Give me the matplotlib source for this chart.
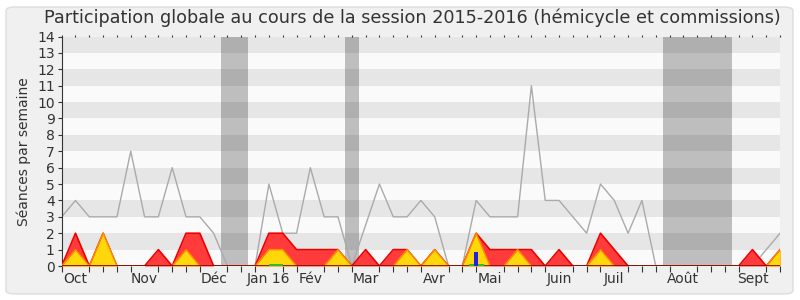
import numpy as np
import matplotlib
matplotlib.use("Agg")
import matplotlib.pyplot as plt
from matplotlib.patches import FancyBboxPatch

# weekly values, session 2015-2016 (53 weeks)
median_all = [3, 4, 3, 3, 3, 7, 3, 3, 6, 3, 3, 2, 0, 0, 0, 5, 2, 2, 6, 3,
              3, 0, 2.5, 5, 3, 3, 4, 3, 0, 0, 4, 3, 3, 3, 11, 4, 4, 3, 2, 5,
              4, 2, 4, 0, 0, 0, 0, 0, 0, 0, 0, 1, 2]
presence_total = [0, 2, 0, 2, 0, 0, 0, 1, 0, 2, 2, 0, 0, 0, 0, 2, 2, 1, 1, 1,
                  1, 0, 1, 0, 1, 1, 0, 1, 0, 0, 2, 1, 1, 1, 1, 0, 1, 0, 0, 2,
                  1, 0, 0, 0, 0, 0, 0, 0, 0, 0, 1, 0, 1]
presence_hemi = [0, 1, 0, 2, 0, 0, 0, 0, 0, 1, 0, 0, 0, 0, 0, 1, 1, 0, 0, 0,
                 1, 0, 0, 0, 0, 1, 0, 1, 0, 0, 2, 0, 0, 1, 0, 0, 0, 0, 0, 1,
                 0, 0, 0, 0, 0, 0, 0, 0, 0, 0, 0, 0, 1]
questions_weeks = [30]
questions_vals = [0.85]
interv_weeks = [15.5, 30.05]
interv_widths = [1.0, 1.1]

recess = [(11.5, 13.5), (20.5, 21.5), (43.5, 48.5)]

month_pos = [1, 6, 11, 15, 18, 22, 27, 31, 36, 40, 45, 50]
month_lbl = ["Oct", "Nov", "Déc", "Jan 16", "Fév", "Mar", "Avr", "Mai",
             "Juin", "Juil", "Août", "Sept"]

TXT = "#333333"
weeks = np.arange(len(median_all))

fig = plt.figure(figsize=(8, 3), dpi=100)
fig.patch.set_facecolor("white")
fig.patches.append(FancyBboxPatch((6 / 800, 6 / 300), 787 / 800, 287 / 300,
                                  boxstyle="round,pad=0,rounding_size=0.012",
                                  transform=fig.transFigure, facecolor="#F0F0F0",
                                  edgecolor="#DDDDDD", lw=1, zorder=-10))

ax = fig.add_axes([0.0771, 0.1133, 0.898, 0.765])
ax.set_facecolor("#FAFAFA")

# alternating stripes
for k in range(0, 14, 2):
    ax.axhspan(k + 1, k + 2, color="#E6E6E6", lw=0, zorder=0)

for a, b in recess:
    ax.axvspan(a, b, color="black", alpha=0.24, lw=0, zorder=1)

ax.plot(weeks, median_all, color="#AAAAAA", lw=1, zorder=2)

ax.fill_between(weeks, 0, presence_total, color="#FF3B3B", lw=0, zorder=3)
ax.plot(weeks, presence_total, color="#EE0000", lw=1.2, zorder=3)
ax.fill_between(weeks, 0, presence_hemi, color="#FFD70A", lw=0, zorder=4)
ax.plot(weeks, presence_hemi, color="#FF8C00", lw=1.0, zorder=4)
ax.axhline(0, color="#7A0000", lw=1.2, zorder=5)

ax.bar(interv_weeks, 0.12, width=interv_widths, color="#33BB33", lw=0, zorder=6)
ax.bar(questions_weeks, questions_vals, width=0.3, color="#2222DD", lw=0, zorder=6)

ax.set_xlim(0, 52)
ax.set_ylim(0, 14)
ax.set_yticks(range(15))
ax.set_xticks(month_pos)
ax.set_xticklabels(month_lbl)
ax.set_xticks(weeks, minor=True)
ax.tick_params(axis="x", which="major", length=0, pad=4, labelsize=10, colors=TXT)
ax.tick_params(axis="x", which="minor", length=4, width=0.8, color="#333333",
               direction="out")
ax.tick_params(axis="y", length=3, width=0.8, labelsize=10, colors=TXT, pad=2)

# small dotted ticks along the top edge
top = ax.secondary_xaxis("top")
top.set_xticks(weeks)
top.tick_params(length=1.5, width=0.8, color="#333333", labeltop=False)
top.spines["top"].set_visible(False)

for s in ["top", "right"]:
    ax.spines[s].set_visible(False)
ax.spines["left"].set_color("#333333")
ax.spines["bottom"].set_visible(False)

ax.set_ylabel("Séances par semaine", fontsize=10, color=TXT, labelpad=4)
fig.text(0.515, 0.94, "Participation globale au cours de la session 2015-2016 "
         "(hémicycle et commissions)", ha="center", va="center",
         fontsize=12.7, color=TXT)

fig.savefig("out.png", dpi=100, facecolor=fig.get_facecolor())
